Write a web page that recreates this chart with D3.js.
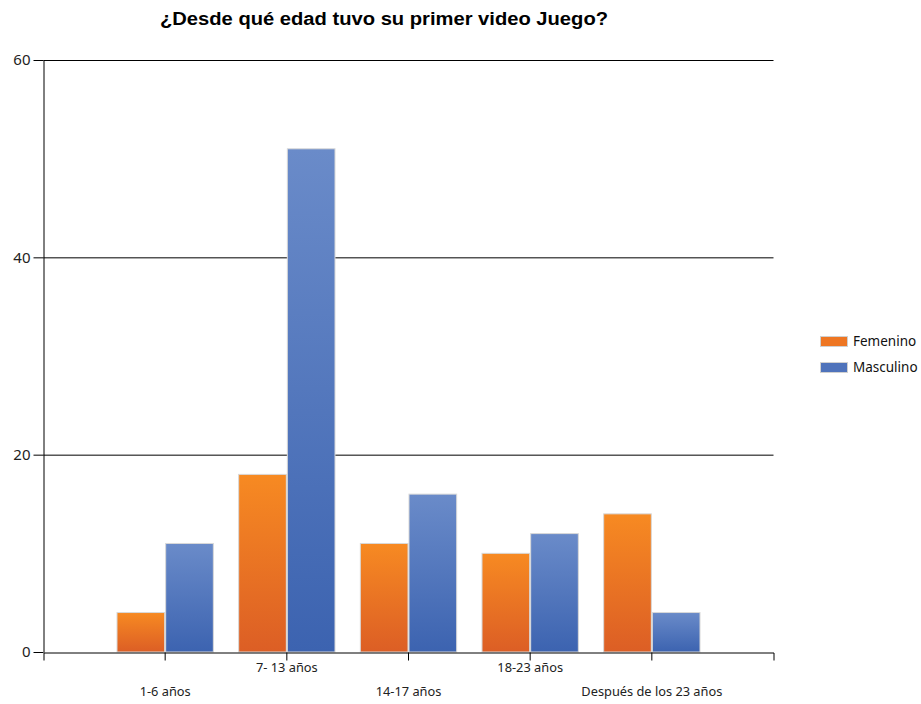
<!DOCTYPE html>
<html>
<head>
<meta charset="utf-8">
<script src="https://cdn.jsdelivr.net/npm/d3@7"></script>
<style>
  body { margin: 0; background: #fff; }
  svg { display: block; }
</style>
</head>
<body>
<svg id="chart" width="921" height="704"></svg>
<script>
// Age at which respondents had their first video game, by gender
const categories = ["1-6 años", "7- 13 años", "14-17 años", "18-23 años", "Después de los 23 años"];
const seriesNames = ["Femenino", "Masculino"];
const femenino = [4, 18, 11, 10, 14];
const masculino = [11, 51, 16, 12, 4];
const yTicks = [0, 20, 40, 60];

const svg = d3.select("#chart");
const plot = { left: 43.5, right: 773.5, top: 60, bottom: 652 };

const x = d3.scaleBand()
  .domain(categories)
  .range([plot.left, plot.right])
  .paddingInner(0.2)
  .paddingOuter(0.6);

const xs = d3.scaleBand()
  .domain(seriesNames)
  .range([0, x.bandwidth()])
  .padding(0);

const y = d3.scaleLinear().domain([0, 60]).range([plot.bottom, plot.top]);

// Gradients for the two series
const defs = svg.append("defs");
const grads = [
  { id: "gFem", top: "#f78a22", bottom: "#dc5e25" },
  { id: "gMas", top: "#6a8bc9", bottom: "#3c63b0" }
];
grads.forEach(g => {
  const lg = defs.append("linearGradient").attr("id", g.id)
    .attr("x1", 0).attr("y1", 0).attr("x2", 0).attr("y2", 1);
  lg.append("stop").attr("offset", "0%").attr("stop-color", g.top);
  lg.append("stop").attr("offset", "100%").attr("stop-color", g.bottom);
});
const fills = { Femenino: "url(#gFem)", Masculino: "url(#gMas)" };
const swatch = { Femenino: "#ee7623", Masculino: "#4f73bb" };

// Title
svg.append("text")
  .attr("x", 384).attr("y", 25)
  .attr("text-anchor", "middle")
  .attr("font-family", "Liberation Sans, Arial, sans-serif")
  .attr("font-weight", "bold")
  .attr("font-size", 18)
  .attr("textLength", 448)
  .attr("lengthAdjust", "spacingAndGlyphs")
  .attr("fill", "#000")
  .text("¿Desde qué edad tuvo su primer video Juego?");

// Horizontal gridlines
svg.append("g")
  .selectAll("line")
  .data(yTicks.filter(d => d > 0))
  .join("line")
  .attr("x1", plot.left).attr("x2", plot.right)
  .attr("y1", d => y(d) + 0.5).attr("y2", d => y(d) + 0.5)
  .attr("stroke", "#000").attr("stroke-width", 1);

// Bars
const rows = categories.map((c, i) => ({ cat: c, values: [
  { key: "Femenino", value: femenino[i] },
  { key: "Masculino", value: masculino[i] }
]}));

svg.append("g")
  .selectAll("g")
  .data(rows)
  .join("g")
  .attr("transform", d => `translate(${x(d.cat)},0)`)
  .selectAll("rect")
  .data(d => d.values)
  .join("rect")
  .attr("x", d => xs(d.key) + 0.5)
  .attr("width", xs.bandwidth() - 1)
  .attr("y", d => y(d.value))
  .attr("height", d => y(0) - y(d.value))
  .attr("fill", d => fills[d.key])
  .attr("stroke", "#d8d8d8")
  .attr("stroke-width", 1);

// Y axis
const yAxis = svg.append("g")
  .attr("transform", `translate(${plot.left},0)`)
  .call(d3.axisLeft(y).tickValues(yTicks).tickSize(10).tickSizeOuter(0).tickPadding(3));
yAxis.selectAll("text")
  .attr("font-family", "Noto Sans, DejaVu Sans, sans-serif")
  .attr("font-size", 15)
  .attr("fill", "#222");
yAxis.selectAll("line, path").attr("stroke", "#000");

// X axis with staggered labels
const xAxis = svg.append("g")
  .attr("transform", `translate(0,${plot.bottom + 0.5})`)
  .call(d3.axisBottom(x).tickSize(8).tickSizeOuter(8).tickPadding(0));
xAxis.selectAll("line, path").attr("stroke", "#000");
xAxis.selectAll("text")
  .attr("font-family", "Noto Sans, DejaVu Sans, sans-serif")
  .attr("font-size", 12.8)
  .attr("fill", "#222")
  .attr("y", (d, i) => i % 2 === 0 ? 34 : 10)
  .attr("dy", "0.71em");

// Legend
const legend = svg.append("g").attr("transform", "translate(820,336)");
seriesNames.forEach((name, i) => {
  const g = legend.append("g").attr("transform", `translate(0,${i * 26})`);
  g.append("rect").attr("x", 0.5).attr("y", 0.5).attr("width", 27).attr("height", 10)
    .attr("fill", swatch[name]).attr("stroke", "#d0d0d0");
  g.append("text").attr("x", 33).attr("y", 5.5).attr("dy", "0.35em")
    .attr("font-family", "Noto Sans, DejaVu Sans, sans-serif")
    .attr("font-size", 13.5).attr("fill", "#111")
    .text(name);
});
</script>
</body>
</html>
